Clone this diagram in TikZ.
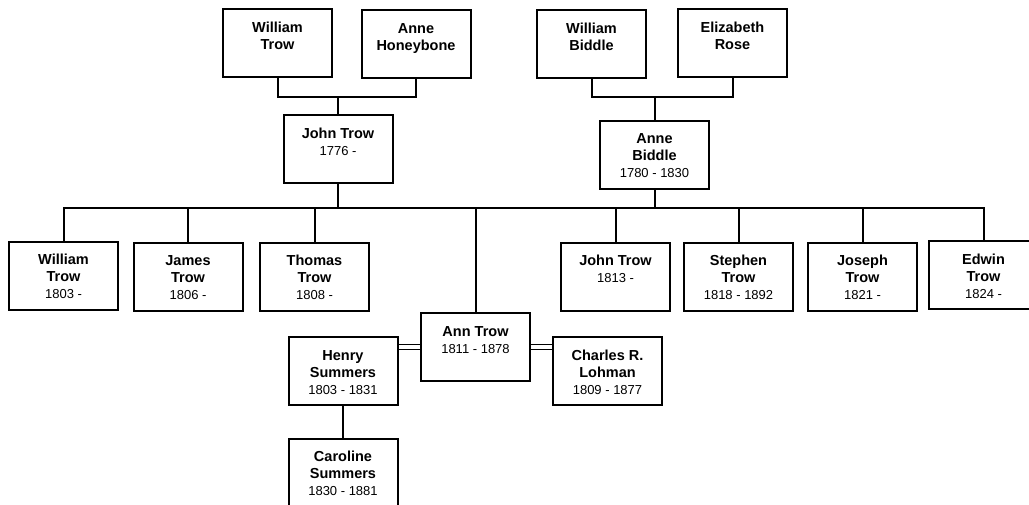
\documentclass[tikz,border=0pt]{standalone}
\usepackage{fontspec}
\setmainfont{Liberation Sans}
\newcommand\namef{\fontsize{14.5}{17}\selectfont\bfseries}
\newcommand\datef{\fontsize{13}{17}\selectfont\mdseries}
\newcommand\pinfo[2]{\parbox[t][68pt][t]{109pt}{\centering\namef\rule{0pt}{23pt}#1\par\datef #2\par}}
\tikzset{
  person/.style={draw=black, line width=2pt, inner sep=0pt, minimum width=109pt, minimum height=68pt},
  link/.style={draw=black, line width=2pt},
  marry/.style={draw=black, line width=1.4pt, double=white, double distance=3.6pt}
}
\begin{document}
\begin{tikzpicture}[x=1pt,y=-1pt]
\fill[white] (0,0) rectangle (1029,504);
\clip (0,0) rectangle (1029,504);
% top row
\node[person] (wt0) at (277.5,43) {\pinfo{William\\Trow}{}};
\node[person] (ah)  at (416,44)   {\pinfo{Anne\\Honeybone}{}};
\node[person] (wb)  at (591.5,44) {\pinfo{William\\Biddle}{}};
\node[person] (er)  at (732.5,43) {\pinfo{Elizabeth\\Rose}{}};
% parents
\node[person] (jt) at (338,149)   {\pinfo{John Trow}{1776 -}};
\node[person] (ab) at (654.5,154.5) {\pinfo{Anne\\Biddle}{1780 - 1830}};
% children
\node[person] (c1) at (63.5,275.5)  {\pinfo{William\\Trow}{1803 -}};
\node[person] (c2) at (188,276.5)   {\pinfo{James\\Trow}{1806 -}};
\node[person] (c3) at (314.5,276.5) {\pinfo{Thomas\\Trow}{1808 -}};
\node[person] (c5) at (615.5,276.5) {\pinfo{John Trow}{1813 -}};
\node[person] (c6) at (738.5,276.5) {\pinfo{Stephen\\Trow}{1818 - 1892}};
\node[person] (c7) at (862.5,276.5) {\pinfo{Joseph\\Trow}{1821 -}};
\node[person] (c8) at (983.5,275)   {\pinfo{Edwin\\Trow}{1824 -}};
\node[person] (at) at (475.5,347)   {\pinfo{Ann Trow}{1811 - 1878}};
\node[person] (hs) at (343,371)     {\pinfo{Henry\\Summers}{1803 - 1831}};
\node[person] (cl) at (607.5,371)   {\pinfo{Charles R.\\Lohman}{1809 - 1877}};
\node[person] (cs) at (343,472.5)   {\pinfo{Caroline\\Summers}{1830 - 1881}};
% connectors
\coordinate (m1) at (338,97);
\coordinate (m2) at (654.5,97);
\coordinate (sb) at (475.5,208);
\draw[link] (wt0.south) |- (m1) -| (ah.south);
\draw[link] (m1) -- (jt.north);
\draw[link] (wb.south) |- (m2) -| (er.south);
\draw[link] (m2) -- (ab.north);
\draw[link] (jt.south) -- (jt.south |- sb);
\draw[link] (ab.south) -- (ab.south |- sb);
\draw[link] (c1.north) |- (sb) -| (c8.north);
\foreach \c in {c2,c3,c5,c6,c7} \draw[link] (\c.north) -- (\c.north |- sb);
\draw[link] (sb) -- (at.north);
\draw[marry] (at.west) -- (at.west -| hs.east);
\draw[marry] (at.east) -- (at.east -| cl.west);
\draw[link] (hs.south) -- (cs.north);
\end{tikzpicture}
\end{document}
